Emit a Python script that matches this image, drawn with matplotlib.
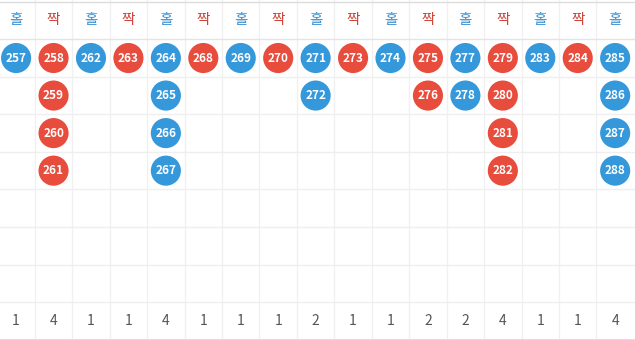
# -*- coding: utf-8 -*-
# tableau 홀/짝 : colonnes de numeros par serie
import matplotlib
matplotlib.use("Agg")
import matplotlib.pyplot as plt

plt.rcParams['font.family'] = ['Noto Sans CJK KR', 'DejaVu Sans']

# donnees
entetes = ["홀", "짝", "홀", "짝", "홀", "짝", "홀", "짝", "홀",
           "짝", "홀", "짝", "홀", "짝", "홀", "짝", "홀"]
colonnes = [
    [257],
    [258, 259, 260, 261],
    [262],
    [263],
    [264, 265, 266, 267],
    [268],
    [269],
    [270],
    [271, 272],
    [273],
    [274],
    [275, 276],
    [277, 278],
    [279, 280, 281, 282],
    [283],
    [284],
    [285, 286, 287, 288],
]
totaux = [1, 4, 1, 1, 4, 1, 1, 1, 2, 1, 1, 2, 2, 4, 1, 1, 4]
nb_lignes = 7

bleu = "#3498db"
rouge = "#e74c3c"
couleur_texte = {"홀": "#3a8fd0", "짝": "#d0443a"}
couleur_rond = {"홀": bleu, "짝": rouge}

fig = plt.figure(figsize=(6.35, 3.4), dpi=100)
ax = fig.add_axes([0, 0, 1, 1])
n = len(entetes)
ax.set_xlim(-0.43, n - 0.47)
ax.set_ylim(nb_lignes + 1.51, -0.545)
ax.axis("off")

# grille
for i in range(n - 1):
    ax.axvline(i + 0.5, color="#f0f0f0", linewidth=1.0, zorder=0)
for r in range(1, nb_lignes + 1):
    ax.axhline(r + 0.5, color="#efefef", linewidth=1.0, zorder=0)
ax.axhline(-0.5, color="#dddddd", linewidth=1.0, zorder=0)
ax.axhline(0.5, color="#e3e3e3", linewidth=1.0, zorder=0)
ax.axhline(nb_lignes + 1.5, color="#d8d8d8", linewidth=1.2, zorder=0)

for i, (lab, nums) in enumerate(zip(entetes, colonnes)):
    ax.text(i, 0, lab, color=couleur_texte[lab], fontsize=10.5,
            ha="center", va="center")
    for j, v in enumerate(nums):
        ax.scatter(i, j + 1, s=470, color=couleur_rond[lab],
                   edgecolors="none", zorder=2)
        ax.text(i, j + 1, str(v), color="white", fontsize=8.5,
                fontweight="bold", ha="center", va="center", zorder=3)
    ax.text(i, nb_lignes + 1, str(totaux[i]), color="#555555", fontsize=10,
            ha="center", va="center")

fig.savefig("out.png", dpi=100)
